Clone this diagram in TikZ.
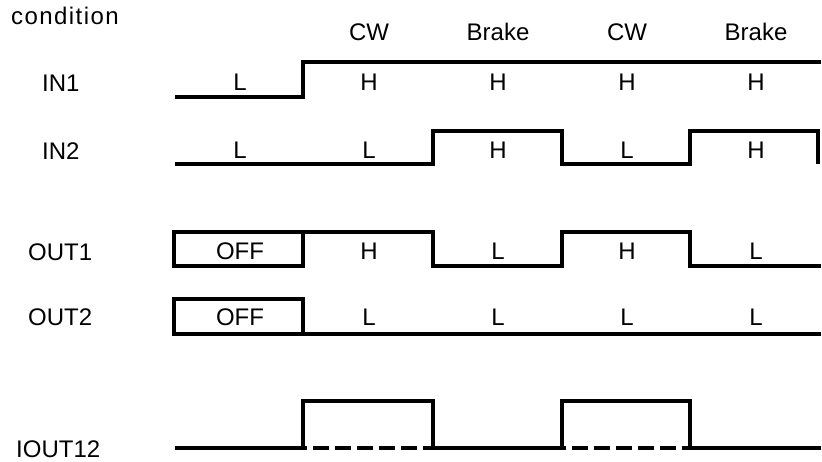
\documentclass[tikz,border=0pt]{standalone}
\usepackage{fontspec}
\setmainfont{Liberation Sans}
\begin{document}
\begin{tikzpicture}[x=1pt,y=-1pt,
  wave/.style={line width=3.4pt,line join=miter,line cap=butt},
  gap/.style={line width=3.4pt,dash pattern=on 16pt off 6pt,dash phase=-10pt},
  txt/.style={inner sep=0pt,anchor=base,font=\fontsize{24}{28}\selectfont},
  rowlbl/.style={txt,anchor=base west}]
\useasboundingbox (0,0) rectangle (822,462);

% header
\node[rowlbl,font=\fontsize{24}{28}\selectfont\addfontfeatures{LetterSpace=6}] (cond) at (11,25) {condition};
\foreach \x/\t [count=\i] in {369/CW,498/Brake,627/CW,756/Brake}
  \node[txt] (hd\i) at (\x,41) {\t};

% row labels
\node[rowlbl] (in1) at (42,92) {IN1};
\node[rowlbl] (in2) at (42,160) {IN2};
\node[rowlbl] (out1) at (28,261) {OUT1};
\node[rowlbl] (out2) at (28,326) {OUT2};
\node[rowlbl] (iout) at (16,457) {IOUT12};

% IN1
\draw[wave] (175,97) -- (303,97) -- (303,62) -- (821,62);
\foreach \x/\t [count=\i] in {240/L,369/H,498/H,627/H,756/H}
  \node[txt] (a\i) at (\x,91) {\t};

% IN2
\draw[wave] (175,164) -- (433,164) -- (433,131) -- (562,131) -- (562,164)
  -- (690,164) -- (690,131) -- (818,131) -- (818,164);
\foreach \x/\t [count=\i] in {240/L,369/L,498/H,627/L,756/H}
  \node[txt] (b\i) at (\x,159) {\t};

% OUT1
\draw[wave] (174,232) rectangle (303,266);
\draw[wave] (303,232) -- (433,232) -- (433,266) -- (562,266) -- (562,232)
  -- (690,232) -- (690,266) -- (821,266);
\foreach \x/\t [count=\i] in {240/OFF,369/H,498/L,627/H,756/L}
  \node[txt] (c\i) at (\x,260) {\t};

% OUT2
\draw[wave] (174,299) rectangle (303,334);
\draw[wave] (303,334) -- (821,334);
\foreach \x/\t [count=\i] in {240/OFF,369/L,498/L,627/L,756/L}
  \node[txt] (d\i) at (\x,326) {\t};

% IOUT12
\draw[wave] (175,448) -- (303,448) -- (303,401) -- (433,401) -- (433,448)
  -- (562,448) -- (562,401) -- (690,401) -- (690,448) -- (821,448);
\draw[gap] (303,448) -- (433,448);
\draw[gap] (562,448) -- (690,448);
\end{tikzpicture}
\end{document}
